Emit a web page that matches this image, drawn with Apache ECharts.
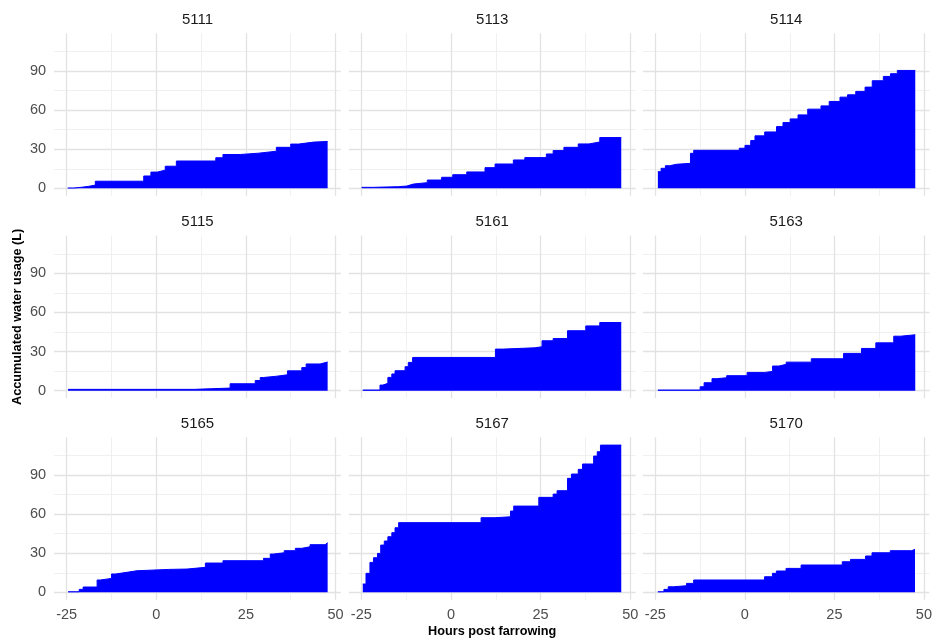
<!DOCTYPE html>
<html>
<head>
<meta charset="utf-8">
<script src="https://cdn.jsdelivr.net/npm/echarts@6/dist/echarts.min.js"></script>
<style>
html, body { margin: 0; padding: 0; background: #fff; }
#chart { width: 935px; height: 639px; }
</style>
</head>
<body>
<div id="chart"></div>
<script>
const sows = ['5111', '5113', '5114', '5115', '5161', '5163', '5165', '5167', '5170']
const xTicks = [-25, 0, 25, 50]
const xMinor = [-12.5, 12.5, 37.5]
const yTicks = [0, 30, 60, 90]
const yMinor = [15, 45, 75, 105]

// [hours post farrowing, accumulated water usage (L)]
const s5111 = [[-24.7, 0.3], [-23, 0.8], [-21, 1.5], [-19, 2.5], [-17, 5.5], [-3.5, 9.5], [-1.5, 12.5], [0.3, 14], [2.5, 17], [5.6, 21], [16.6, 23.5], [18.6, 26], [23.4, 27], [28.5, 28.5], [33.5, 31.5], [37.5, 34], [39.7, 35.5], [43.9, 36], [47.8, 36]]
const s5113 = [[-24.9, 0.8], [-21.6, 1.3], [-14.7, 1.8], [-12.3, 3.3], [-10.5, 4.4], [-6.6, 6.4], [-2.6, 8.5], [0.5, 10.5], [4.4, 12.6], [9.5, 15.9], [12.3, 18.7], [17.4, 21.8], [20.6, 23.6], [26.6, 26.4], [28.5, 29], [31.5, 31.5], [35.5, 34.1], [38.5, 35.6], [41.5, 39], [47.5, 39]]
const s5114 = [[-24.3, 12.8], [-23.4, 15.4], [-22.2, 17.4], [-21, 18.5], [-19.1, 19.2], [-15.2, 26.9], [-14.3, 29.2], [-1.6, 30.8], [0, 33], [1.6, 36.7], [2.8, 40.3], [5.5, 43.3], [8.8, 47.4], [10.6, 50.5], [12.6, 53.3], [14.8, 56.4], [17.5, 60.8], [21.2, 63.3], [23.5, 66.7], [26.5, 70], [28.6, 71.8], [30.9, 74.4], [33.5, 77.7], [35.5, 82.6], [38.6, 85.9], [40.6, 88], [42.5, 90.5], [47.5, 90.5]]
const s5115 = [[-24.6, 1], [10.6, 2], [20.6, 5.3], [27.6, 7.8], [29, 10.1], [29.9, 11.1], [33.6, 12.2], [36.6, 15.2], [40.6, 17.7], [41.8, 20.5], [45.7, 22], [47.8, 22]]
const s5161 = [[-24.6, 0.5], [-19.8, 4.3], [-19, 5.6], [-17.6, 10.2], [-16.5, 12.8], [-15.6, 15.3], [-12.8, 18.4], [-11.9, 21.7], [-10.7, 25.5], [12.4, 31.9], [14.6, 32.9], [23.4, 33.7], [25.4, 38.3], [28.5, 40], [32.5, 46], [37.6, 49.7], [41.5, 52.3], [47.5, 52.3]]
const s5163 = [[-24.3, 0.5], [-12.5, 3], [-11.4, 6.1], [-9.2, 9.2], [-8, 9.9], [-5.1, 11.5], [0.6, 14], [5.5, 14.8], [7.7, 18.9], [9.5, 20.2], [11.5, 21.9], [18.5, 24.5], [27.5, 28.6], [32.5, 32.4], [36.5, 36.7], [41.5, 41.8], [43.4, 42.9], [47.5, 42.9]]
const s5165 = [[-24.6, 0.5], [-21.5, 2.3], [-20.4, 4.1], [-16.5, 9.5], [-15.6, 10.7], [-12.5, 14.1], [-11.4, 14.8], [-9.6, 15.6], [-7.7, 16.6], [-5.4, 17.6], [3.4, 17.9], [8.6, 19.2], [13.7, 22.5], [18.6, 24.3], [29.9, 26.1], [31.8, 29.4], [32.7, 30.4], [35.7, 32], [38.8, 33.8], [40.6, 35], [42.9, 36.6], [47.1, 38.1], [47.8, 38.1]]
const s5167 = [[-24.6, 6.4], [-23.7, 14.6], [-22.6, 23], [-21.6, 26.6], [-20.5, 29.9], [-19.6, 36.3], [-18.6, 39.4], [-17.6, 42.7], [-16.5, 45.8], [-15.6, 49.6], [-14.6, 53.5], [8.4, 57.3], [12.3, 58], [16.6, 62.4], [17.5, 66.2], [24.5, 72.9], [28.5, 75.4], [29.6, 78], [32.5, 87.5], [33.6, 90.8], [35.5, 94.4], [36.7, 98.5], [39.8, 104.6], [40.8, 107.9], [41.7, 113], [47.5, 113]]
const s5170 = [[-24.3, 0.5], [-22.6, 2.3], [-21.4, 4.3], [-19.9, 5.1], [-16.3, 6.9], [-14.3, 9.5], [5.5, 12], [7.7, 14.6], [8.8, 16.4], [11.5, 18.4], [15.7, 21], [27.2, 23.5], [29.5, 25.3], [33.7, 27.9], [35.5, 30.4], [40.6, 32], [46.6, 33], [47.5, 33]]

const sowData = [s5111, s5113, s5114, s5115, s5161, s5163, s5165, s5167, s5170]

// panel layout
const colLeft = [54.1, 348.8, 642.8]
const rowTop = [33.3, 235.6, 437.3]
const W = 286.8
const H = 162.5
const X_MIN = -28.5, X_MAX = 51.5
const Y_MIN = -5.7, Y_MAX = 119

const FONT = "'Liberation Sans', Arial, sans-serif"
const majorLine = { color: '#e2e2e2', width: 1.3 }
const minorLine = { color: '#ececec', width: 0.8 }

const grids = [], xAxes = [], yAxes = [], titles = [], series = []
sowData.forEach((d, i) => {
  const r = Math.floor(i / 3)
  const c = i % 3
  grids.push({ left: colLeft[c], top: rowTop[r], width: W, height: H })
  titles.push({
    text: sows[i],
    left: colLeft[c] + W / 2,
    top: rowTop[r] - 21,
    textAlign: 'center',
    padding: 0,
    textStyle: { fontSize: 15, fontWeight: 'normal', color: '#1a1a1a', fontFamily: FONT },
  })
  // major x
  xAxes.push({
    gridIndex: i, type: 'value', min: X_MIN, max: X_MAX,
    axisLine: { show: false },
    axisTick: { show: false, customValues: xTicks },
    axisLabel: { show: r === 2, customValues: xTicks, margin: 8, fontSize: 14.5, color: '#4d4d4d', fontFamily: FONT },
    splitLine: { show: true, lineStyle: majorLine },
    name: i === 7 ? 'Hours post farrowing' : '',
    nameLocation: 'middle',
    nameGap: 25,
    nameTextStyle: { fontSize: 12.7, fontWeight: 'bold', color: '#000', fontFamily: FONT },
  })
  // minor x
  xAxes.push({
    gridIndex: i, type: 'value', min: X_MIN, max: X_MAX,
    axisLine: { show: false },
    axisTick: { show: false, customValues: xMinor },
    axisLabel: { show: false },
    splitLine: { show: true, lineStyle: minorLine },
  })
  // major y
  yAxes.push({
    gridIndex: i, type: 'value', min: Y_MIN, max: Y_MAX,
    axisLine: { show: false },
    axisTick: { show: false, customValues: yTicks },
    axisLabel: { show: c === 0, customValues: yTicks, margin: 8, fontSize: 14.5, color: '#4d4d4d', fontFamily: FONT },
    splitLine: { show: true, lineStyle: majorLine },
    name: i === 3 ? 'Accumulated water usage (L)' : '',
    nameLocation: 'middle',
    nameRotate: 90,
    nameGap: 30,
    nameTextStyle: { fontSize: 12.7, fontWeight: 'bold', color: '#000', fontFamily: FONT },
  })
  // minor y
  yAxes.push({
    gridIndex: i, type: 'value', min: Y_MIN, max: Y_MAX,
    axisLine: { show: false },
    axisTick: { show: false, customValues: yMinor },
    axisLabel: { show: false },
    splitLine: { show: true, lineStyle: minorLine },
  })
  series.push({
    name: sows[i],
    type: 'line',
    step: 'end',
    xAxisIndex: i * 2,
    yAxisIndex: i * 2,
    data: d,
    symbol: 'none',
    lineStyle: { color: '#0000ff', width: 1 },
    areaStyle: { color: '#0000ff', opacity: 1 },
    z: 3,
  })
})

const myChart = echarts.init(document.getElementById('chart'))
myChart.setOption({
  backgroundColor: '#ffffff',
  animation: false,
  textStyle: { fontFamily: FONT },
  title: titles,
  grid: grids,
  xAxis: xAxes,
  yAxis: yAxes,
  series: series,
})
</script>
</body>
</html>
